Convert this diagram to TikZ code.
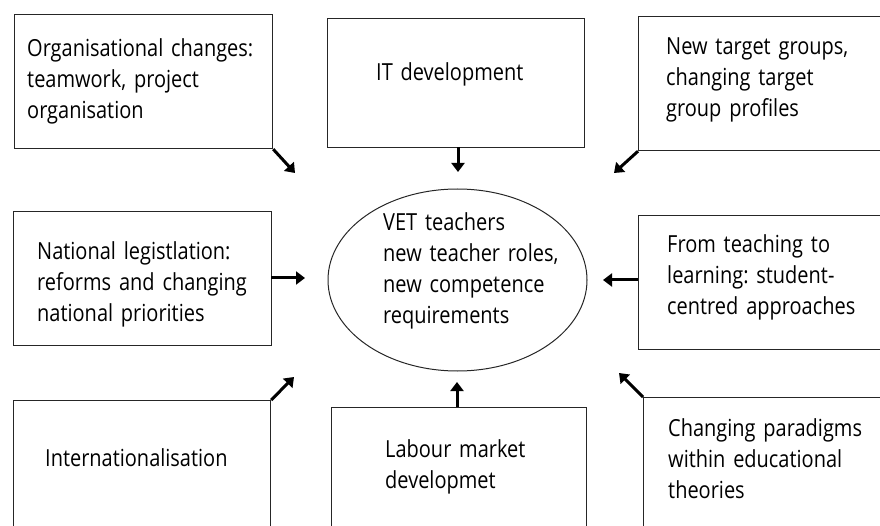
\documentclass[tikz,border=0pt]{standalone}
\usepackage{fontspec}
\setmainfont{Open Sans}[FakeStretch=0.85]
\frenchspacing
\usetikzlibrary{arrows.meta,shapes.geometric}

\tikzset{
  box/.style={draw=black!85, line width=1.2pt, anchor=north west, inner sep=0pt},
  label/.style={anchor=base west, inner sep=0pt, text width=300pt, align=left,
    font={\fontsize{23.5}{31}\selectfont\frenchspacing}, text=black},
  push/.style={line width=3pt, -{Triangle[length=9pt,width=13pt]}},
}

\begin{document}
\begin{tikzpicture}[x=1pt,y=-1pt]
  \useasboundingbox (0,0) rectangle (880,526);
  \clip (0,0) rectangle (880,526);

  % influence boxes
  \node[box, minimum width=258pt, minimum height=134pt] (org) at (14,14) {};
  \node[box, minimum width=257pt, minimum height=129pt] (it) at (327,18) {};
  \node[box, minimum width=260pt, minimum height=134pt] (target) at (638,16) {};
  \node[box, minimum width=258pt, minimum height=134pt] (law) at (13,211) {};
  \node[box, minimum width=260pt, minimum height=134pt] (learn) at (638,215) {};
  \node[box, minimum width=257pt, minimum height=150pt] (intl) at (13,400) {};
  \node[box, minimum width=255pt, minimum height=150pt] (labour) at (331,407) {};
  \node[box, minimum width=260pt, minimum height=150pt] (paradigm) at (643,397) {};

  % central ellipse
  \node[ellipse, draw=black!85, line width=1pt, minimum width=259pt, minimum height=182pt] (vet) at (457.5,280) {};

  % texts
  \node[label] (orgT) at (27,57) {Organisational changes:\\ teamwork, project\\ organisation};
  \node[label] (itT) at (376,81) {IT development};
  \node[label] (targetT) at (666,55) {New target groups,\\ changing target\\ group profiles};
  \node[label] (lawT) at (37,260) {National legistlation:\\ reforms and changing\\ national priorities};
  \node[label] (vetT) at (383,231) {VET teachers\\ new teacher roles,\\ new competence\\ requirements};
  \node[label] (learnT) at (667,253) {From teaching to\\ learning: student-\\ centred approaches};
  \node[label] (intlT) at (45,466) {Internationalisation};
  \node[label] (labourT) at (385,457) {Labour market\\ developmet};
  \node[label] (paradigmT) at (668,436) {Changing paradigms\\ within educational\\ theories};

  % arrow ends near the ellipse
  \coordinate (orgE) at (295,173);
  \coordinate (itE) at (458,172);
  \coordinate (targetE) at (614,173);
  \coordinate (lawE) at (305,278);
  \coordinate (learnE) at (603,280);
  \coordinate (intlE) at (294,377);
  \coordinate (labourE) at (457,382);
  \coordinate (paradigmE) at (619,373);
  \coordinate (lawS) at (271,278);
  \coordinate (learnS) at (638,280);
  \coordinate (itS) at (458,147);
  \coordinate (labourS) at (457,407);

  % influences
  \draw[push] (org.south east) -- (orgE);
  \draw[push] (itS) -- (itE);
  \draw[push] (target.south west) -- (targetE);
  \draw[push] (lawS) -- (lawE);
  \draw[push] (learnS) -- (learnE);
  \draw[push] (intl.north east) -- (intlE);
  \draw[push] (labourS) -- (labourE);
  \draw[push] (paradigm.north west) -- (paradigmE);
\end{tikzpicture}
\end{document}
